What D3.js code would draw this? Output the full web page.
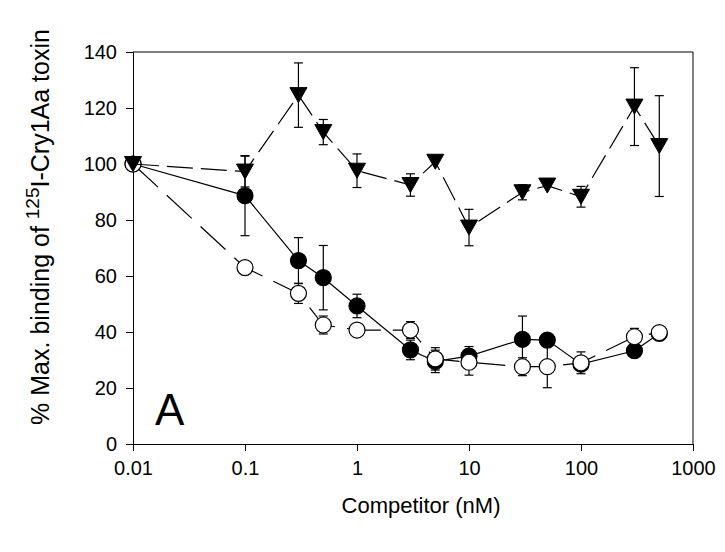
<!DOCTYPE html>
<html>
<head>
<meta charset="utf-8">
<script src="https://cdn.jsdelivr.net/npm/d3@7"></script>
<style>
	body { margin: 0; background: #fff; }
	svg { display: block; font-family: "Liberation Sans", Arial, sans-serif; }
</style>
</head>
<body>
<svg id="chart"></svg>
<script>
const concentrations = [0.01, 0.1, 0.3, 0.5, 1, 3, 5, 10, 30, 50, 100, 300, 500];

const filledMeans = [100, 88.7, 65.5, 59.4, 49.3, 33.6, 29.5, 31.4, 37.4, 37.1, 28.5, 33.3, 39.5];
const filledErrors = [0, 14.3, 8.2, 11.5, 4.2, 3.5, 4, 3.4, 8.3, 0, 0, 0, 0];

const openMeans = [100, 63.0, 53.8, 42.5, 40.7, 40.7, 30.4, 29.2, 27.6, 27.6, 29.0, 38.3, 39.8];
const openErrors = [0, 0, 3.6, 3.2, 0, 3, 4, 4.6, 3.2, 7.5, 3.9, 3, 0];

const triangleMeans = [100, 97.3, 124.6, 111.4, 97.6, 92.5, 100.8, 77.3, 89.9, 92.3, 88.3, 120.5, 106.4];
const triangleErrors = [0, 5.5, 11.5, 4.5, 6, 4, 0, 6.5, 2.7, 0, 3.7, 13.9, 18];

const xTicks = [0.01, 0.1, 1, 10, 100, 1000];
const xTickLabels = ['0.01', '0.1', '1', '10', '100', '1000'];
const yTicks = [0, 20, 40, 60, 80, 100, 120, 140];

const width = 725;
const height = 552;
const margin = { top: 52, right: 32, bottom: 108, left: 133 };

function buildSeries(means, errors) {
	return concentrations.map((c, i) => ({ x: c, y: means[i], err: errors[i] }));
}

function drawSeries(g, x, y, data, opts) {
	const line = d3.line()
		.x(d => x(d.x))
		.y(d => y(d.y));

	g.append('path')
		.datum(data)
		.attr('d', line)
		.attr('fill', 'none')
		.attr('stroke', '#000')
		.attr('stroke-width', 1.2)
		.attr('stroke-dasharray', opts.dash);

	const bars = g.selectAll(null)
		.data(data.filter(d => d.err > 0))
		.enter()
		.append('g')
		.attr('stroke', '#000')
		.attr('stroke-width', 1.2);

	bars.append('line')
		.attr('x1', d => x(d.x))
		.attr('x2', d => x(d.x))
		.attr('y1', d => y(d.y - d.err))
		.attr('y2', d => y(d.y + d.err));

	[-1, 1].forEach(sign => {
		bars.append('line')
			.attr('x1', d => x(d.x) - 4.5)
			.attr('x2', d => x(d.x) + 4.5)
			.attr('y1', d => y(d.y + sign * d.err))
			.attr('y2', d => y(d.y + sign * d.err));
	});

	if (opts.shape === 'triangle') {
		g.selectAll(null)
			.data(data)
			.enter()
			.append('path')
			.attr('d', 'M-8.5,-7.5L8.5,-7.5L0,7.5Z')
			.attr('transform', d => `translate(${x(d.x)},${y(d.y)})`)
			.attr('fill', '#000')
			.attr('stroke', '#000')
			.attr('stroke-width', 1);
	} else {
		g.selectAll(null)
			.data(data)
			.enter()
			.append('circle')
			.attr('cx', d => x(d.x))
			.attr('cy', d => y(d.y))
			.attr('r', 8)
			.attr('fill', opts.fill)
			.attr('stroke', '#000')
			.attr('stroke-width', 1.2);
	}
}

function render() {
	const svg = d3.select('#chart')
		.attr('width', width)
		.attr('height', height);

	const x = d3.scaleLog()
		.domain([0.01, 1000])
		.range([margin.left, width - margin.right]);

	const y = d3.scaleLinear()
		.domain([0, 140])
		.range([height - margin.bottom, margin.top]);

	// frame (top and right sides, no ticks)
	svg.append('path')
		.attr('d', `M${x(0.01)},${y(140)}H${x(1000)}V${y(0)}`)
		.attr('fill', 'none')
		.attr('stroke', '#000')
		.attr('stroke-width', 1);

	const xAxis = svg.append('g')
		.attr('transform', `translate(0,${y(0)})`)
		.call(d3.axisBottom(x)
			.tickValues(xTicks)
			.tickFormat((d, i) => xTickLabels[i])
			.tickSizeOuter(0)
			.tickSize(7)
			.tickPadding(10));

	const yAxis = svg.append('g')
		.attr('transform', `translate(${x(0.01)},0)`)
		.call(d3.axisLeft(y)
			.tickValues(yTicks)
			.tickSizeOuter(0)
			.tickSize(7)
			.tickPadding(9));

	[xAxis, yAxis].forEach(axis => {
		axis.selectAll('path, line').attr('stroke', '#000').attr('stroke-width', 1);
		axis.selectAll('text')
			.attr('fill', '#000')
			.style('font-size', '20px')
			.style('font-family', '"Liberation Sans", Arial, sans-serif');
	});

	const plot = svg.append('g');
	drawSeries(plot, x, y, buildSeries(filledMeans, filledErrors), { shape: 'circle', fill: '#000', dash: null });
	drawSeries(plot, x, y, buildSeries(openMeans, openErrors), { shape: 'circle', fill: '#fff', dash: '34,12' });
	drawSeries(plot, x, y, buildSeries(triangleMeans, triangleErrors), { shape: 'triangle', dash: '26,8' });

	svg.append('text')
		.attr('x', 155)
		.attr('y', 425)
		.style('font-size', '44px')
		.text('A');

	svg.append('text')
		.attr('x', 421)
		.attr('y', 513)
		.attr('text-anchor', 'middle')
		.style('font-size', '22px')
		.text('Competitor (nM)');

	const yTitle = svg.append('text')
		.attr('transform', 'translate(49,227) rotate(-90)')
		.attr('text-anchor', 'middle')
		.style('font-size', '25px');
	yTitle.append('tspan').text('% Max. binding of ');
	yTitle.append('tspan').attr('dy', -10).style('font-size', '19px').text('125');
	yTitle.append('tspan').attr('dy', 10).text('I-Cry1Aa toxin');
}

document.addEventListener('DOMContentLoaded', () => {
	render();
});
</script>
</body>
</html>
